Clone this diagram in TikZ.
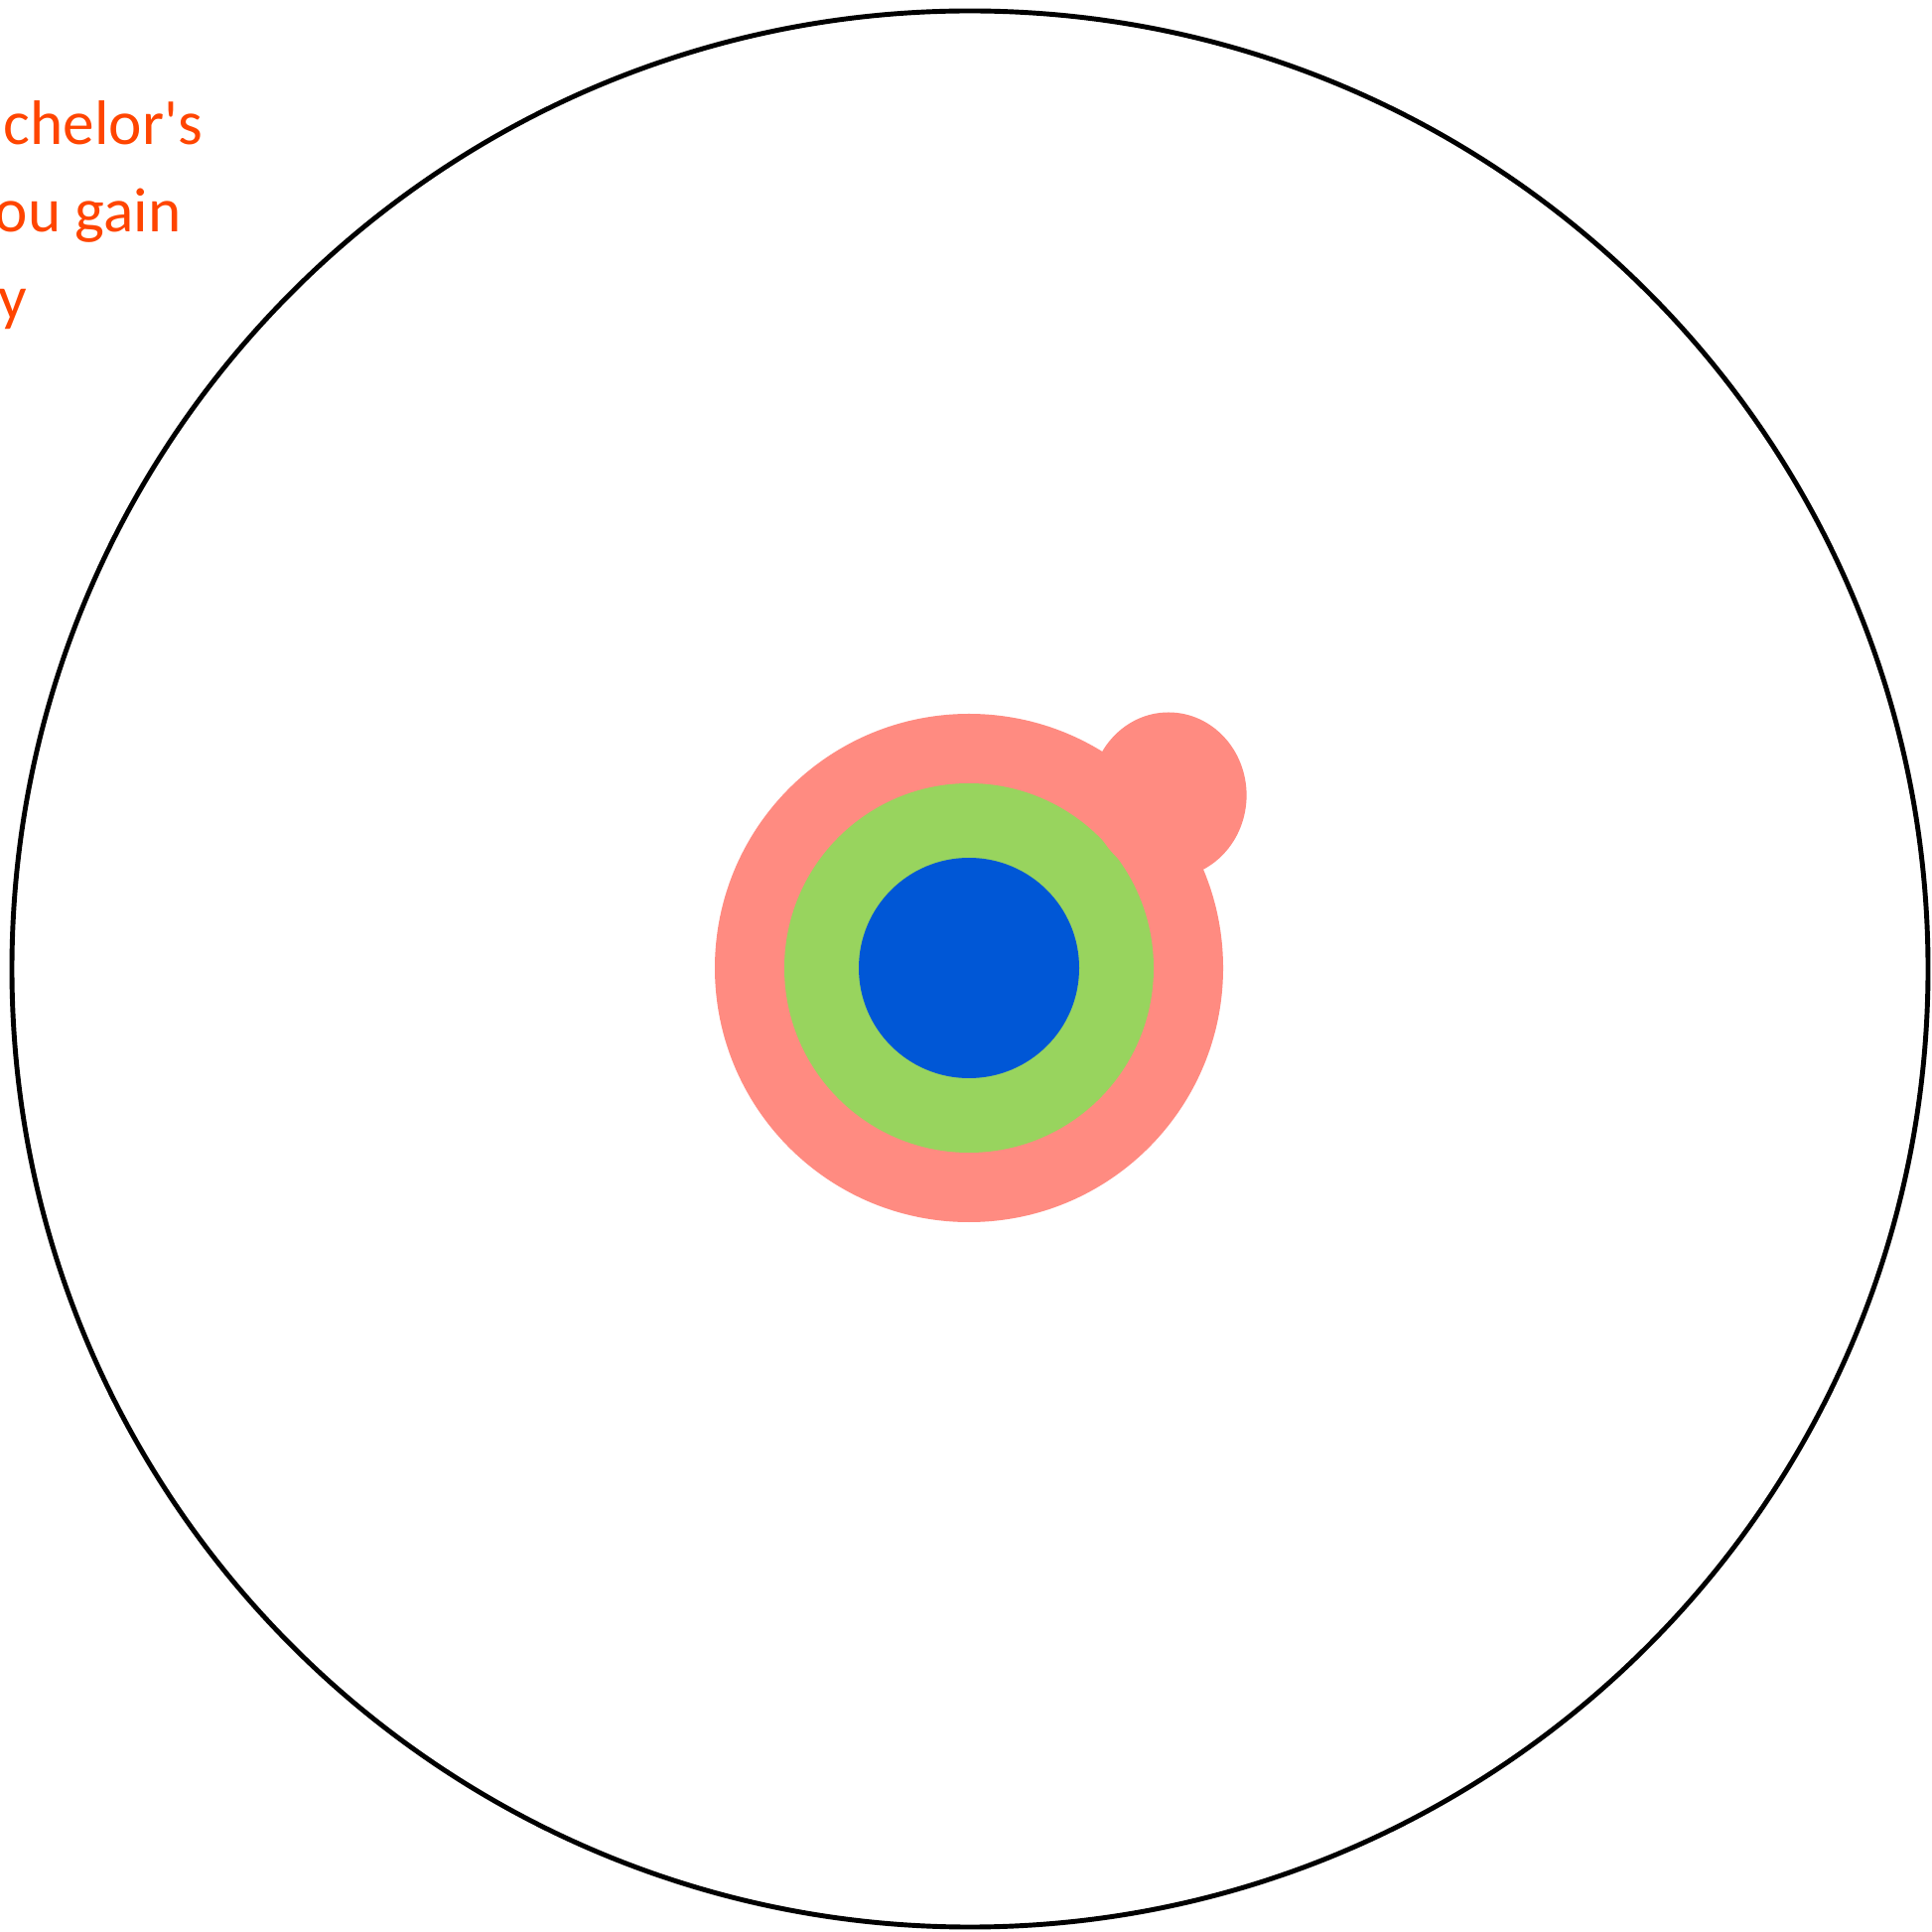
\documentclass[tikz,border=0pt]{standalone}
\usepackage{fontspec}
\setmainfont{Carlito}
\definecolor{ringred}{RGB}{255,139,129}
\definecolor{ringgreen}{RGB}{152,212,94}
\definecolor{coreblue}{RGB}{0,87,214}
\definecolor{notecolor}{RGB}{255,69,0}
\tikzset{
    note/.style={anchor=base west, inner sep=0pt, text=notecolor, font=\fontsize{18pt}{25pt}\selectfont}
}
\begin{document}
\begin{tikzpicture}[scale=1]
    \useasboundingbox (0,0) rectangle (19.46,19.45);
    \coordinate (O) at (9.77,9.69);
    \coordinate (C) at (9.76,9.70);
    \coordinate (E) at (11.77,11.44);
    \draw[line width=1.4pt] (O) circle (9.65);
    \fill[ringred] (C) circle (2.56);
    \fill[ringgreen] (C) circle (1.86);
    \fill[ringred] (E) ellipse (0.786 and 0.835);
    \fill[coreblue] (C) circle (1.11);
    \node[note] (l1) at (0.03,17.99) {chelor\textquotesingle s};
    \node[note] (l2) at (-0.06,17.11) {ou gain};
    \node[note] (l3) at (-0.02,16.23) {y};
\end{tikzpicture}
\end{document}
